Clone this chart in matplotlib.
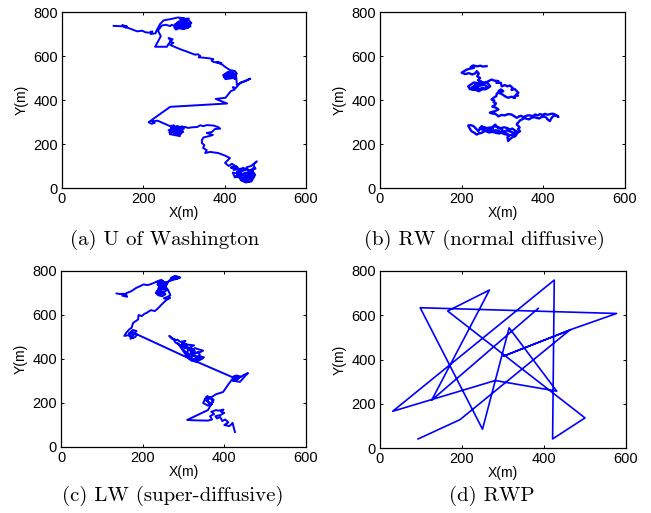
import matplotlib
matplotlib.use("Agg")
import matplotlib.pyplot as plt

plt.rcParams['font.family'] = ['Liberation Sans', 'DejaVu Sans']

# (a) U of Washington trace, hand-read waypoints (x, y) in metres
uw_path = [
    (127, 737), (160, 734), (148, 740), (158, 729), (152, 735), (185, 712), (197, 715), (205, 708),
    (214, 706), (222, 712), (218, 700), (230, 703), (232, 714), (241, 745), (250, 762), (268, 768),
    (285, 775), (300, 772), (290, 768), (312, 770), (300, 763),
    (295, 765), (305, 760), (312, 762), (318, 750), (308, 745), (316, 735), (305, 728), (298, 722),
    (288, 726), (280, 720), (276, 730), (284, 738), (278, 745), (290, 748), (300, 738), (310, 750),
    (298, 755), (288, 758), (282, 750), (292, 742), (302, 732), (294, 728), (286, 734), (296, 746),
    (306, 756), (316, 744), (310, 728), (300, 725), (290, 735), (280, 740), (286, 752), (298, 762),
    (292, 752), (304, 744), (312, 738), (296, 732), (284, 728), (278, 736), (270, 742), (266, 736),
    (255, 742), (245, 738), (236, 715), (243, 690), (229, 642), (258, 642), (262, 655), (268, 668),
    (262, 682), (272, 676), (266, 664), (274, 660), (266, 650), (292, 630), (310, 618), (327, 606),
    (334, 608), (340, 600), (336, 594), (350, 592), (360, 590), (372, 586), (368, 578), (374, 572),
    (386, 570), (392, 568), (380, 572), (395, 560), (400, 552), (413, 536),
    (425, 532), (430, 520), (418, 515), (428, 505), (415, 498), (402, 495), (398, 505), (410, 510),
    (400, 518), (412, 522), (420, 508), (405, 500), (396, 512), (408, 528), (422, 524), (418, 504),
    (426, 496), (414, 506), (404, 514), (416, 518), (428, 512), (430, 470),
    (440, 478), (452, 488), (463, 497), (450, 485), (440, 480), (431, 463), (428, 455), (420, 458),
    (425, 448), (415, 440), (402, 410), (378, 405), (406, 384), (291, 372), (266, 369), (213, 299),
    (220, 292), (228, 296), (222, 303), (235, 306), (250, 294), (266, 281),
    (275, 285), (270, 270), (262, 262), (272, 255), (265, 245), (278, 240), (290, 236), (288, 250),
    (298, 255), (292, 268), (284, 276), (296, 280), (300, 270), (286, 262), (276, 250), (282, 244),
    (270, 262), (290, 258), (280, 270), (268, 275), (285, 282), (274, 264), (264, 252), (280, 256),
    (292, 246), (296, 262), (284, 268), (272, 278), (278, 262), (284, 254), (276, 246), (288, 242),
    (294, 250), (286, 258), (278, 268), (270, 258), (282, 250), (290, 264), (280, 276), (274, 270),
    (286, 272), (294, 276), (302, 278), (310, 273),
    (320, 276), (332, 277), (340, 285), (348, 281), (356, 286), (372, 284), (384, 277), (389, 270),
    (376, 268), (369, 255), (356, 250), (371, 241), (362, 236), (348, 230), (344, 218), (344, 204),
    (350, 195), (347, 182), (356, 172), (352, 159), (364, 164), (384, 159), (400, 148), (413, 136),
    (401, 114), (410, 100),
    (418, 110), (425, 102), (415, 92), (430, 95), (422, 82), (440, 88), (432, 72), (448, 80),
    (455, 95), (465, 100), (479, 121), (470, 105), (476, 88), (462, 78), (472, 65), (458, 55),
    (468, 45), (450, 40), (460, 30), (445, 32), (438, 45), (428, 55), (435, 65), (420, 70),
    (425, 48), (440, 58), (452, 70), (462, 62), (448, 50), (436, 78), (445, 92), (455, 82),
    (468, 78), (475, 60), (466, 30), (452, 25), (440, 35), (430, 75), (445, 62), (458, 72),
    (470, 90), (462, 48), (450, 58), (440, 68), (432, 60), (444, 44), (456, 48), (464, 38),
    (472, 52), (460, 66), (448, 66), (438, 52), (452, 36), (466, 56), (456, 88), (444, 80),
    (434, 88), (428, 100), (420, 90)]

# (b) RW (normal diffusive)
rw_path = [
    (261, 554), (252, 552), (246, 556), (238, 553), (228, 557), (222, 550), (230, 546), (220, 542),
    (212, 538), (205, 530), (200, 524), (208, 518), (218, 522), (226, 516), (234, 522), (237, 531),
    (242, 520), (238, 508), (245, 500), (240, 490), (248, 484),
    (240, 476), (230, 480), (222, 470), (216, 462), (220, 450), (228, 446), (236, 456), (244, 450),
    (252, 456), (258, 448), (262, 462), (254, 470), (246, 466), (238, 462), (228, 458), (234, 470),
    (244, 478), (252, 474), (260, 480), (266, 472), (270, 462), (262, 452), (250, 448), (242, 440),
    (232, 448), (224, 456), (238, 470), (250, 482), (257, 478),
    (265, 485), (273, 493), (280, 488), (290, 486), (285, 478), (296, 478), (298, 462), (306, 468),
    (312, 462), (318, 466), (325, 455), (322, 446), (330, 450), (335, 440), (339, 433), (334, 426),
    (338, 420), (332, 420), (326, 412), (331, 410), (322, 415), (314, 410), (306, 417), (300, 425),
    (292, 432), (290, 440), (296, 448), (302, 440), (286, 430),
    (285, 418), (278, 410), (273, 402), (280, 398), (278, 390), (284, 385), (282, 378), (275, 370),
    (285, 364), (290, 357), (282, 350), (275, 346), (269, 342), (276, 338), (282, 338), (290, 326),
    (298, 332), (305, 330), (314, 336), (322, 334), (330, 325), (335, 319), (340, 325), (345, 328),
    (352, 322), (355, 326), (362, 330), (368, 330), (374, 326), (380, 334), (386, 330), (392, 336),
    (398, 332), (404, 337), (410, 333), (415, 335), (422, 338), (429, 334), (437, 323), (432, 330),
    (425, 328), (420, 318), (416, 304), (412, 310), (410, 312), (408, 319), (402, 325), (395, 322),
    (390, 316), (385, 318), (378, 322), (371, 319), (365, 312), (360, 314), (354, 318), (347, 311),
    (342, 306), (340, 300), (336, 294), (335, 288), (340, 280), (342, 275), (338, 268), (343, 258),
    (338, 252), (336, 248), (333, 240), (331, 235), (325, 232), (320, 225), (316, 218), (314, 213),
    (313, 222), (312, 230), (316, 238), (310, 248), (306, 252), (302, 258), (298, 266), (294, 270),
    (290, 272), (286, 280), (282, 288), (278, 280), (276, 270), (270, 268), (265, 266), (260, 270),
    (258, 275), (252, 278), (249, 281), (246, 274), (245, 268), (242, 262), (241, 258), (238, 264),
    (235, 270), (232, 276), (229, 281), (222, 286), (216, 284), (218, 276), (220, 270), (222, 264),
    (224, 258), (228, 254), (232, 250), (234, 246), (237, 243), (242, 248), (248, 250), (254, 256),
    (260, 262), (266, 260), (272, 258), (278, 254), (285, 250), (292, 248), (298, 252), (304, 256),
    (310, 262), (316, 258), (322, 255), (326, 250), (330, 245), (324, 242), (318, 240), (312, 242),
    (305, 245), (298, 250), (292, 258), (286, 262), (280, 262), (275, 256), (268, 252), (262, 256),
    (256, 262), (250, 266), (244, 272), (250, 276), (258, 270), (266, 274), (274, 276), (280, 282),
    (288, 276), (296, 272), (304, 276), (312, 272), (318, 266), (324, 270), (330, 262), (336, 256),
    (330, 252)]

# (c) LW (super-diffusive)
lw_path = [
    (136, 698), (145, 695), (152, 697), (160, 690), (162, 683), (150, 688), (156, 694), (161, 700),
    (172, 708), (185, 724), (195, 732), (202, 739), (212, 736), (218, 739), (229, 747),
    (238, 755), (246, 760), (240, 745), (252, 748), (244, 735), (236, 738), (248, 725), (240, 712),
    (232, 700), (238, 690), (248, 685), (256, 695), (250, 705), (259, 712), (252, 722), (258, 738),
    (262, 750), (254, 742), (246, 730), (238, 722), (244, 708), (252, 698), (242, 694), (234, 706),
    (240, 718), (250, 716), (256, 726), (248, 740), (240, 752), (250, 756), (244, 700), (236, 710),
    (246, 716), (240, 728), (250, 732), (244, 744), (236, 748), (262, 750), (270, 766),
    (278, 774), (290, 772), (284, 764), (270, 770), (280, 778), (292, 770), (262, 752), (256, 728),
    (262, 715), (268, 690), (260, 682), (252, 676), (262, 672), (267, 679), (258, 668),
    (251, 656), (245, 645), (239, 633), (235, 626), (230, 618), (220, 622), (210, 610), (204, 605),
    (198, 595), (190, 600), (189, 580), (183, 572), (177, 565), (175, 555), (173, 542), (168, 536),
    (165, 530), (160, 520), (155, 505), (165, 508), (170, 500), (175, 495), (168, 512), (180, 518),
    (185, 527), (176, 532), (172, 524), (178, 510), (170, 492), (182, 500), (186, 512), (176, 520),
    (166, 516), (172, 524),
    (311, 405), (320, 392), (330, 388), (335, 392), (345, 400), (350, 408), (340, 412), (330, 408),
    (322, 420), (330, 428), (342, 432), (348, 438), (335, 445), (328, 450), (322, 440), (318, 455),
    (326, 462), (312, 465), (308, 462), (298, 470), (302, 478), (305, 482), (292, 478), (285, 488),
    (282, 485), (276, 492), (272, 492), (268, 500), (265, 505), (270, 498), (276, 488), (280, 475),
    (290, 465), (296, 460), (300, 455), (310, 448), (316, 440), (318, 432), (326, 418), (320, 410),
    (316, 406), (324, 400), (336, 398), (342, 404), (330, 414), (316, 420), (308, 430), (314, 446),
    (304, 450), (296, 466), (300, 460), (308, 468), (296, 472), (304, 456), (314, 452), (320, 444),
    (328, 436), (318, 428), (326, 424), (336, 430), (340, 420), (332, 402), (322, 396), (286, 472),
    (311, 405),
    (419, 318), (430, 325), (440, 320), (432, 310), (425, 300), (438, 296), (445, 310), (452, 325),
    (458, 336), (448, 328), (440, 318), (428, 312), (421, 300), (430, 305), (436, 314), (426, 320),
    (420, 310),
    (410, 285), (397, 250), (380, 240), (365, 223), (358, 232), (352, 215), (362, 205), (370, 195),
    (360, 188), (348, 200), (355, 225), (368, 218), (372, 205), (365, 190), (358, 210), (364, 228),
    (374, 214), (360, 168), (309, 123), (330, 121), (360, 120), (370, 125), (365, 140), (375, 150),
    (368, 160), (380, 168), (385, 165), (398, 170), (392, 160), (400, 155), (390, 145), (378, 140),
    (382, 130), (390, 136), (395, 118), (402, 125), (410, 112), (400, 100), (412, 95), (418, 104),
    (420, 110), (426, 68)]

# (d) RWP waypoints
rwp_x = [93, 195, 463, 301, 468, 577, 98, 250, 315, 431, 281, 31, 425, 421, 500, 165, 267, 126, 386]
rwp_y = [41, 128, 533, 415, 537, 608, 634, 85, 543, 257, 305, 166, 759, 41, 136, 619, 714, 216, 631]

uw_x, uw_y = zip(*uw_path)
rw_x, rw_y = zip(*rw_path)
lw_x, lw_y = zip(*lw_path)

traces = [(uw_x, uw_y, 1.4), (rw_x, rw_y, 1.7), (lw_x, lw_y, 1.4), (rwp_x, rwp_y, 1.2)]
captions = ['(a) U of Washington', '(b) RW (normal diffusive)',
            '(c) LW (super-diffusive)', '(d) RWP']

W, H = 651, 513
fig = plt.figure(figsize=(W / 100, H / 100), dpi=100)

# axes boxes in pixels: left, top, right, bottom
boxes = [(62, 12, 306, 188), (380, 12, 625, 188),
         (61, 271, 306, 447), (380, 271, 626, 448)]
cap_pos = [(165, 240), (484, 240), (173, 496), (492, 496)]

for (tx, ty, lw), (l, t, r, b), cap, (cx, cy) in zip(traces, boxes, captions, cap_pos):
    ax = fig.add_axes([l / W, 1 - b / H, (r - l) / W, (b - t) / H])
    ax.plot(tx, ty, color=(0, 0, 1), lw=lw)
    ax.set_xlim(0, 600)
    ax.set_ylim(0, 800)
    ax.set_xticks([0, 200, 400, 600])
    ax.set_yticks([0, 200, 400, 600, 800])
    ax.tick_params(direction='in', length=2.5, width=0.7, top=True, right=True,
                   labelsize=10.5, pad=3)
    for s in ax.spines.values():
        s.set_linewidth(0.9)
    ax.set_xlabel('X(m)', fontsize=10, labelpad=0)
    ax.set_ylabel('Y(m)', fontsize=10, labelpad=3)
    fig.text(cx / W, 1 - cy / H, cap, family='cmr10', fontsize=15,
             ha='center', va='center')

fig.savefig('out.png', dpi=100)
